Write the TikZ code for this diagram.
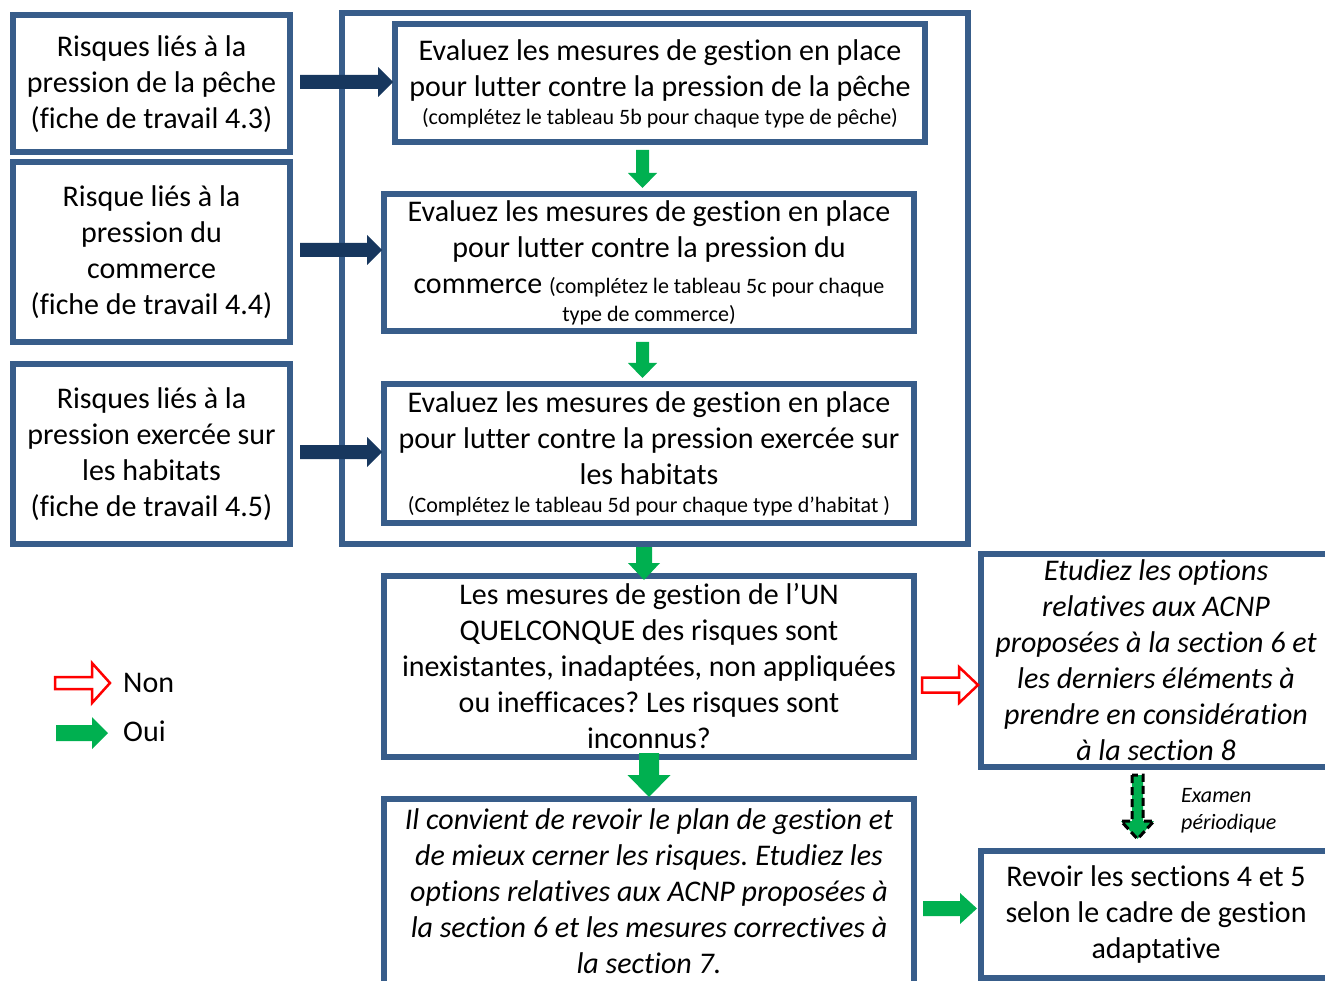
\documentclass[tikz,border=0pt]{standalone}
\usepackage{fontspec}
\setmainfont{Carlito}[Ligatures=NoCommon]
\frenchspacing
\definecolor{boxblue}{HTML}{385D8A}
\definecolor{navy}{HTML}{17375E}
\definecolor{oui}{HTML}{00B050}
\newcommand\petit{\fontsize{22}{26}\selectfont}
\begin{document}
\begin{tikzpicture}[x=1pt,y=-1pt,
  box/.style={draw=boxblue, line width=6pt, fill=white, align=center,
    inner sep=0pt, font=\fontsize{30}{36}\selectfont},
  ibox/.style={box, font=\fontsize{30}{36}\selectfont\itshape},
  lbl/.style={inner sep=0pt, anchor=west, font=\fontsize{30}{36}\selectfont},
  % block arrow pointing right: {length}{shaft}{head length}{head width}
  pics/rarrow/.style n args={4}{code={
    \path[pic actions] (0,-#2/2) -- (#1-#3,-#2/2) -- (#1-#3,-#4/2) -- (#1,0)
      -- (#1-#3,#4/2) -- (#1-#3,#2/2) -- (0,#2/2) -- cycle;}},
  % block arrow pointing down: {length}{shaft}{head length}{head width}
  pics/darrow/.style n args={4}{code={
    \path[pic actions] (-#2/2,0) -- (-#2/2,#1-#3) -- (-#4/2,#1-#3) -- (0,#1)
      -- (#4/2,#1-#3) -- (#2/2,#1-#3) -- (#2/2,0) -- cycle;}},
  navyarrow/.style={fill=navy},
  yesarrow/.style={fill=oui},
  noarrow/.style={fill=white, draw=red, line width=2.5pt, line join=miter}
]
\useasboundingbox (0,0) rectangle (1325,981);
\clip (0,0) rectangle (1325,981);

% risk sources
\node[box, minimum width=277pt, minimum height=137pt] (a1) at (151.5,84)
  {Risques liés à la\\pression de la pêche\\(fiche de travail 4.3)};
\node[box, minimum width=277pt, minimum height=180pt] (a2) at (151.5,252.5)
  {Risque liés à la\\pression du\\commerce\\(fiche de travail 4.4)};
\node[box, minimum width=277pt, minimum height=179pt] (a3) at (151.5,454)
  {Risques liés à la\\pression exercée sur\\les habitats\\(fiche de travail 4.5)};

% evaluation group
\draw[boxblue, line width=6pt] (342,13) rectangle (968,544);
\node[box, minimum width=530pt, minimum height=118pt] (b1) at (660,83.5)
  {Evaluez les mesures de gestion en place\\pour lutter contre la pression de la pêche\\[-8pt]
   {\petit (complétez le tableau 5b pour chaque type de pêche)}};
\node[box, minimum width=530pt, minimum height=137pt] (b2) at (649,263)
  {Evaluez les mesures de gestion en place\\pour lutter contre la pression du\\
   commerce {\petit (complétez le tableau 5c pour chaque}\\[-8pt]
   {\petit type de commerce)}};
\node[box, minimum width=530pt, minimum height=138pt] (b3) at (649,453.5)
  {Evaluez les mesures de gestion en place\\pour lutter contre la pression exercée sur\\les habitats\\[-8pt]
   {\petit (Complétez le tableau 5d pour chaque type d’habitat )}};

% decision and outcomes
\node[box, minimum width=530pt, minimum height=181pt] (c) at (649,666)
  {Les mesures de gestion de l’UN\\QUELCONQUE des risques sont\\inexistantes, inadaptées, non appliquées\\ou inefficaces? Les risques sont\\inconnus?};
\node[ibox, minimum width=530pt, minimum height=186pt] (d) at (649,891.5)
  {Il convient de revoir le plan de gestion et\\de mieux cerner les risques. Etudiez les\\options relatives aux ACNP proposées à\\la section 6 et les mesures correctives à\\la section 7.};
\node[ibox, minimum width=350pt, minimum height=213pt] (e) at (1156,660)
  {Etudiez les options\\relatives aux ACNP\\proposées à la section 6 et\\les derniers éléments à\\prendre en considération\\à la section 8};
\node[box, minimum width=350pt, minimum height=127pt] (f) at (1156,914)
  {Revoir les sections 4 et 5\\selon le cadre de gestion\\adaptative};

% arrows from risk sources
\pic[navyarrow] at (300,82) {rarrow={93}{14}{15}{30}};
\pic[navyarrow] at (300,250) {rarrow={82}{14}{15}{30}};
\pic[navyarrow] at (300,452) {rarrow={82}{14}{15}{30}};

% "oui" flow
\pic[yesarrow] at (642.5,150) {darrow={38}{13}{15}{29}};
\pic[yesarrow] at (642.5,342) {darrow={36}{13}{15}{29}};
\pic[yesarrow] at (644,547) {darrow={33}{16}{17}{32}};
\pic[yesarrow] at (649,753) {darrow={44}{20}{22}{43}};
\pic[yesarrow] at (923,908.5) {rarrow={54}{15}{17}{31}};

% "non" flow
\pic[noarrow] at (922,685) {rarrow={56}{15}{19}{36}};

% periodic review
\pic[yesarrow, draw=black, line width=3pt, dash pattern=on 8pt off 4pt] at (1137.5,775) {darrow={64}{11}{18}{33}};
\node[inner sep=0pt, anchor=west, align=left, font=\fontsize{22}{27}\selectfont\itshape]
  (exam) at (1181,811) {Examen\\périodique};

% legend
\pic[noarrow] at (55,683) {rarrow={55}{12}{18}{40}};
\node[lbl] (non) at (123,683) {Non};
\pic[yesarrow] at (56,733) {rarrow={52}{16}{16}{32}};
\node[lbl] (oui) at (123,731) {Oui};
\end{tikzpicture}
\end{document}
